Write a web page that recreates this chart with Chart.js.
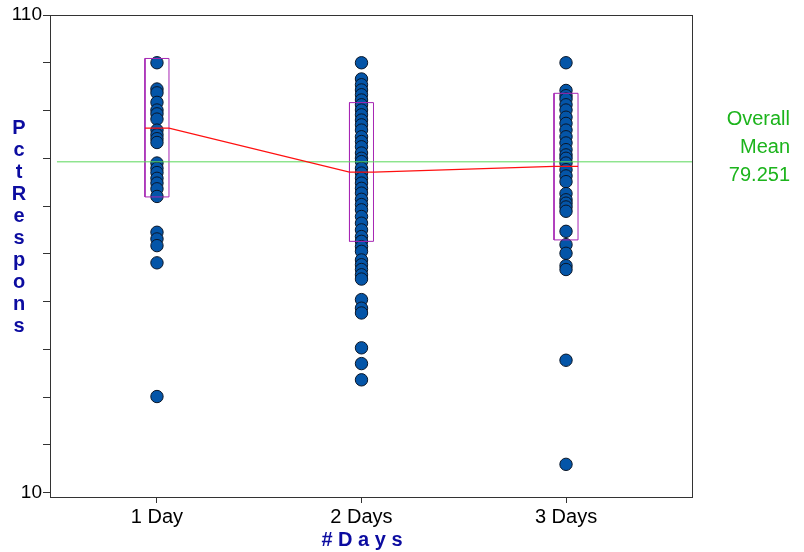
<!DOCTYPE html>
<html><head><meta charset="utf-8">
<script src="https://cdn.jsdelivr.net/npm/chart.js@4"></script>
<style>html,body{margin:0;padding:0;background:#fff}canvas{display:block}</style>
</head><body>
<canvas id="c" width="804" height="552"></canvas>
<script>
const categories = ['1 Day', '2 Days', '3 Days'];
const yTicks = [10, 20, 30, 40, 50, 60, 70, 80, 90, 100, 110];
const yTickLabels = ['10', '', '', '', '', '', '', '', '', '', '110'];
const day1 = [100, 94.5, 93.7, 91.7, 90.1, 89.3, 88.2, 85.9, 84.9, 84.1, 83.3, 79.0, 77.9, 77.0, 75.8, 74.8, 73.6, 72.0, 64.5, 63.1, 61.7, 58.1, 30.1];
const day2 = [100, 96.6, 95.4, 94.3, 93.3, 92.2, 91.2, 90.1, 89.1, 88.0, 87.0, 85.9, 84.5, 83.5, 82.4, 81.1, 80.0, 79.3, 77.9, 76.9, 75.8, 74.8, 73.7, 72.7, 71.4, 70.3, 69.2, 67.8, 66.4, 65.0, 63.6, 62.6, 61.5, 60.5, 58.7, 57.7, 56.7, 55.6, 54.7, 50.4, 48.6, 47.6, 40.3, 37.0, 33.6];
const day3 = [100, 94.2, 93.1, 92.4, 91.2, 90.1, 88.6, 87.3, 85.9, 84.5, 83.2, 81.8, 80.7, 80.0, 79.0, 77.6, 76.3, 75.1, 72.6, 71.3, 70.6, 69.8, 68.9, 64.7, 61.9, 60.1, 57.5, 56.7, 37.7, 15.9];
const groupMeans = [86.3, 77.1, 78.3];
const boxHigh = [100.9, 91.65, 93.6];
const boxLow = [71.9, 62.6, 62.9];
const overallMean = 79.251;

const groups = [day1, day2, day3];
const X_MIN = 0.477, X_MAX = 3.616, Y_MIN = 9.06, Y_MAX = 110;
const BOX_W = 0.0587;
const FONT = '"Liberation Sans", Arial, sans-serif';

const points = [];
groups.forEach((vals, i) => vals.forEach(v => points.push({x: i + 1, y: v})));

const datasets = [];
datasets.push({
  label: 'points', data: points, order: 10,
  pointRadius: 6.2, pointHoverRadius: 6.2,
  backgroundColor: '#0455a8', borderColor: '#0a1628', borderWidth: 1, showLine: false
});
groups.forEach((_, i) => {
  const g = i + 1;
  datasets.push({
    label: 'box' + g, order: 2, showLine: true, pointRadius: 0, fill: false, tension: 0,
    borderColor: '#a626b4', borderWidth: 1,
    data: [{x: g - BOX_W, y: boxLow[i]}, {x: g + BOX_W, y: boxLow[i]}, {x: g + BOX_W, y: boxHigh[i]},
           {x: g - BOX_W, y: boxHigh[i]}, {x: g - BOX_W, y: boxLow[i]}]
  });
});
const meanPts = [];
groupMeans.forEach((m, i) => { meanPts.push({x: i + 1 - BOX_W, y: m}); meanPts.push({x: i + 1 + BOX_W, y: m}); });
datasets.push({
  label: 'means', order: 1, showLine: true, pointRadius: 0, fill: false, tension: 0,
  borderColor: '#ff1010', borderWidth: 1.2, data: meanPts
});
datasets.push({
  label: 'overall', order: 1, showLine: true, pointRadius: 0, fill: false,
  borderColor: '#5ad85a', borderWidth: 1,
  data: [{x: X_MIN + 0.034, y: overallMean}, {x: X_MAX, y: overallMean}]
});

const decor = {
  id: 'decor',
  afterDraw(chart) {
    const ctx = chart.ctx; const a = chart.chartArea;
    ctx.save();
    ctx.strokeStyle = '#333'; ctx.lineWidth = 1;
    ctx.strokeRect(Math.round(a.left) + 0.5, Math.round(a.top) + 0.5,
                   Math.round(a.right - a.left), Math.round(a.bottom - a.top));
    ctx.fillStyle = '#0c0ca0';
    ctx.font = 'bold 20px ' + FONT;
    ctx.textAlign = 'center'; ctx.textBaseline = 'middle';
    'PctRespons'.split('').forEach((ch, i) => ctx.fillText(ch, 19, 128 + 22.1 * i));
    ctx.fillText('# D a y s', 362, 540);
    ctx.fillStyle = '#1cb41c';
    ctx.font = '20px ' + FONT;
    ctx.textAlign = 'right';
    ctx.fillText('Overall', 790, 119);
    ctx.fillText('Mean', 790, 147);
    ctx.fillText(overallMean.toFixed(3), 790, 175);
    ctx.restore();
  }
};

new Chart(document.getElementById('c'), {
  type: 'scatter',
  data: {datasets},
  options: {
    responsive: false, animation: false, devicePixelRatio: 1,
    layout: {padding: {left: 0, right: 112, top: 15, bottom: 0}},
    plugins: {legend: {display: false}, tooltip: {enabled: false}},
    scales: {
      x: {
        type: 'linear', min: X_MIN, max: X_MAX,
        afterBuildTicks: s => { s.ticks = categories.map((_, i) => ({value: i + 1})); },
        afterFit: s => { s.height = 55; },
        ticks: {callback: v => categories[v - 1] || '', color: '#000', font: {family: FONT, size: 20}, padding: 2, maxRotation: 0},
        grid: {drawOnChartArea: false, drawTicks: true, tickLength: 6, color: '#333'},
        border: {display: false}
      },
      y: {
        type: 'linear', min: Y_MIN, max: Y_MAX,
        afterBuildTicks: s => { s.ticks = yTicks.map(v => ({value: v})); },
        afterFit: s => { s.width = 50; },
        ticks: {callback: (v) => { const k = yTicks.indexOf(v); return k >= 0 ? yTickLabels[k] : ''; }, color: '#000', font: {family: FONT, size: 19}, padding: 1},
        grid: {drawOnChartArea: false, drawTicks: true, tickLength: 7, color: '#333'},
        border: {display: false}
      }
    }
  },
  plugins: [decor]
});
</script></body></html>
